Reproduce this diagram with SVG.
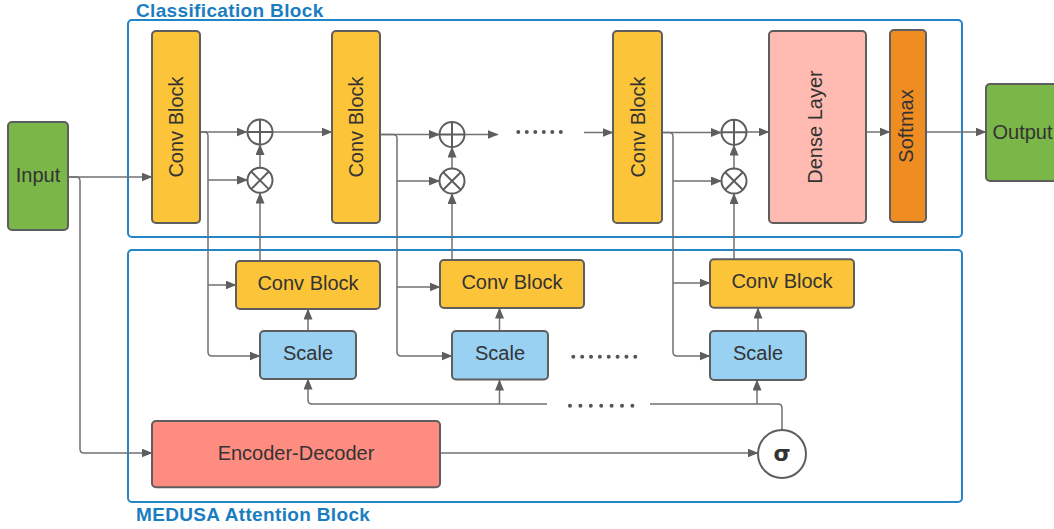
<svg xmlns="http://www.w3.org/2000/svg" width="1054" height="529" viewBox="0 0 1054 529">
<style>
.node{stroke:#5E5E5E;stroke-width:2}
.lbl{font-family:"Liberation Sans",Arial,sans-serif;font-size:20px;fill:#333;text-anchor:middle}
.title{font-family:"Liberation Sans",Arial,sans-serif;font-size:19px;font-weight:bold;fill:#1A7DC0;letter-spacing:0.35px}
.cont{fill:none;stroke:#2384C6;stroke-width:2}
.conn path{fill:none;stroke:#707070;stroke-width:1.5}
.arr{marker-end:url(#ah)}
.op{fill:#fff;stroke:#5E5E5E;stroke-width:2}
.opl{stroke:#5E5E5E;stroke-width:2;fill:none}
.dots{stroke:#555;stroke-width:4;stroke-linecap:round;fill:none}
</style>
<defs>
<marker id="ah" markerUnits="userSpaceOnUse" markerWidth="11" markerHeight="9" refX="10.5" refY="4.5" orient="auto">
<path d="M0,0 L11,4.5 L0,9 z" fill="#5E5E5E"/>
</marker>
</defs>
<rect width="1054" height="529" fill="#fff"/>

<g id="classification-block">
<rect class="cont" x="128" y="20" width="834" height="217" rx="4"/>
<text class="title" x="136" y="17.3">Classification Block</text>
</g>
<g id="medusa-block">
<rect class="cont" x="128" y="250" width="834" height="252" rx="4"/>
<text class="title" x="136" y="521">MEDUSA Attention Block</text>
</g>

<g class="conn" id="connectors">
<path class="arr" d="M68,177 H152"/>
<path class="arr" d="M68,177 H76 Q80,177 80,181 V449 Q80,453 84,453 H152"/>
<path class="arr" d="M200,132 H247"/>
<path class="arr" d="M200,132 H204 Q208,132 208,136 V352 Q208,356 212,356 H260"/>
<path class="arr" d="M208,180 H247.5"/>
<path class="arr" d="M208,285 H236"/>
<path class="arr" d="M260,167.5 V144.5"/>
<path class="arr" d="M260,261 V193"/>
<path class="arr" d="M308,331 V309"/>
<path class="arr" d="M272.5,132 H332"/>
<path class="arr" d="M380,134.5 H439.5"/>
<path class="arr" d="M380,134.5 H393 Q397,134.5 397,138.5 V352 Q397,356 401,356 H452"/>
<path class="arr" d="M397,181 H439.5"/>
<path class="arr" d="M397,287 H440"/>
<path class="arr" d="M452,168.5 V147"/>
<path class="arr" d="M452,260 V193.5"/>
<path class="arr" d="M499.5,331 V308"/>
<path class="arr" d="M464.5,134.5 H498"/>
<path class="arr" d="M584,132.5 H613"/>
<path class="arr" d="M662,132.5 H721.5"/>
<path class="arr" d="M662,132.5 H669 Q673,132.5 673,136.5 V352 Q673,356 677,356 H710"/>
<path class="arr" d="M673,181 H721.5"/>
<path class="arr" d="M673,283 H710"/>
<path class="arr" d="M734,168.5 V145"/>
<path class="arr" d="M734,259 V193.5"/>
<path class="arr" d="M758,331 V308"/>
<path class="arr" d="M746.5,132 H769"/>
<path class="arr" d="M866,132 H890"/>
<path class="arr" d="M926,132 H986"/>
<path class="arr" d="M440,453 H758"/>
<path d="M782,430 V408 Q782,404 778,404 H650"/>
<path class="arr" d="M547,404 H312 Q308,404 308,400 V379"/>
<path class="arr" d="M499.5,404 V380"/>
<path class="arr" d="M757,404 V380"/>
</g>

<g id="dots">
<line class="dots" x1="518.3" y1="132" x2="569.3" y2="132" stroke-dasharray="0 8.5"/>
<line class="dots" x1="573.3" y1="356.7" x2="635.3" y2="356.7" stroke-dasharray="0 8.857"/>
<line class="dots" x1="570" y1="405.7" x2="632.4" y2="405.7" stroke-dasharray="0 10.4"/>
</g>

<g id="input">
<rect class="node" x="8" y="122" width="60" height="108" rx="4" fill="#7AB648"/>
<text class="lbl" x="38" y="182">Input</text>
</g>
<g id="conv1">
<rect class="node" x="152" y="31" width="48" height="192" rx="4" fill="#FCC438"/>
<text class="lbl" transform="translate(183,127) rotate(-90)">Conv Block</text>
</g>
<g id="conv2">
<rect class="node" x="332" y="31" width="48" height="192" rx="4" fill="#FCC438"/>
<text class="lbl" transform="translate(363,127) rotate(-90)">Conv Block</text>
</g>
<g id="conv3">
<rect class="node" x="613" y="31" width="49" height="192" rx="4" fill="#FCC438"/>
<text class="lbl" transform="translate(644.5,127) rotate(-90)">Conv Block</text>
</g>
<g id="dense">
<rect class="node" x="769" y="31" width="97" height="192" rx="4" fill="#FFBBB1"/>
<text class="lbl" transform="translate(822,127) rotate(-90)">Dense Layer</text>
</g>
<g id="softmax">
<rect class="node" x="890" y="30" width="36" height="192" rx="4" fill="#EF8D22"/>
<text class="lbl" transform="translate(913,126) rotate(-90)">Softmax</text>
</g>
<g id="output">
<rect class="node" x="986" y="84" width="74" height="97" rx="4" fill="#7AB648"/>
<text class="lbl" x="1022.5" y="139">Output</text>
</g>

<g id="plus1"><circle class="op" cx="260" cy="132" r="12.5"/><path class="opl" d="M247.5,132 H272.5 M260,119.5 V144.5"/></g>
<g id="times1"><circle class="op" cx="260" cy="180.3" r="12.5"/><path class="opl" d="M251.2,171.5 L268.8,189.1 M268.8,171.5 L251.2,189.1"/></g>
<g id="plus2"><circle class="op" cx="452" cy="134.5" r="12.5"/><path class="opl" d="M439.5,134.5 H464.5 M452,122 V147"/></g>
<g id="times2"><circle class="op" cx="452" cy="181" r="12.5"/><path class="opl" d="M443.2,172.2 L460.8,189.8 M460.8,172.2 L443.2,189.8"/></g>
<g id="plus3"><circle class="op" cx="734" cy="132.3" r="12.5"/><path class="opl" d="M721.5,132.3 H746.5 M734,119.8 V144.8"/></g>
<g id="times3"><circle class="op" cx="734" cy="181" r="12.5"/><path class="opl" d="M725.2,172.2 L742.8,189.8 M742.8,172.2 L725.2,189.8"/></g>

<g id="convA">
<rect class="node" x="236" y="261" width="144" height="48" rx="4" fill="#FCC438"/>
<text class="lbl" x="308" y="290">Conv Block</text>
</g>
<g id="scaleA">
<rect class="node" x="260" y="331" width="96" height="48" rx="4" fill="#99D1F2"/>
<text class="lbl" x="308" y="359.5">Scale</text>
</g>
<g id="convB">
<rect class="node" x="440" y="260" width="144" height="48" rx="4" fill="#FCC438"/>
<text class="lbl" x="512" y="288.5">Conv Block</text>
</g>
<g id="scaleB">
<rect class="node" x="452" y="331" width="96" height="48.5" rx="4" fill="#99D1F2"/>
<text class="lbl" x="500" y="359.5">Scale</text>
</g>
<g id="convC">
<rect class="node" x="710" y="259.3" width="144" height="48.4" rx="4" fill="#FCC438"/>
<text class="lbl" x="782" y="287.5">Conv Block</text>
</g>
<g id="scaleC">
<rect class="node" x="710" y="331" width="96" height="49" rx="4" fill="#99D1F2"/>
<text class="lbl" x="758" y="359.5">Scale</text>
</g>
<g id="encoder-decoder">
<rect class="node" x="152" y="421" width="288" height="66.3" rx="4" fill="#FF8C80"/>
<text class="lbl" x="296" y="459.5">Encoder-Decoder</text>
</g>
<g id="sigma">
<circle class="op" cx="782" cy="454" r="24"/>
<text x="782" y="461" font-family="'DejaVu Sans','Liberation Sans',sans-serif" font-size="22" font-weight="bold" fill="#333" text-anchor="middle">σ</text>
</g>
</svg>
